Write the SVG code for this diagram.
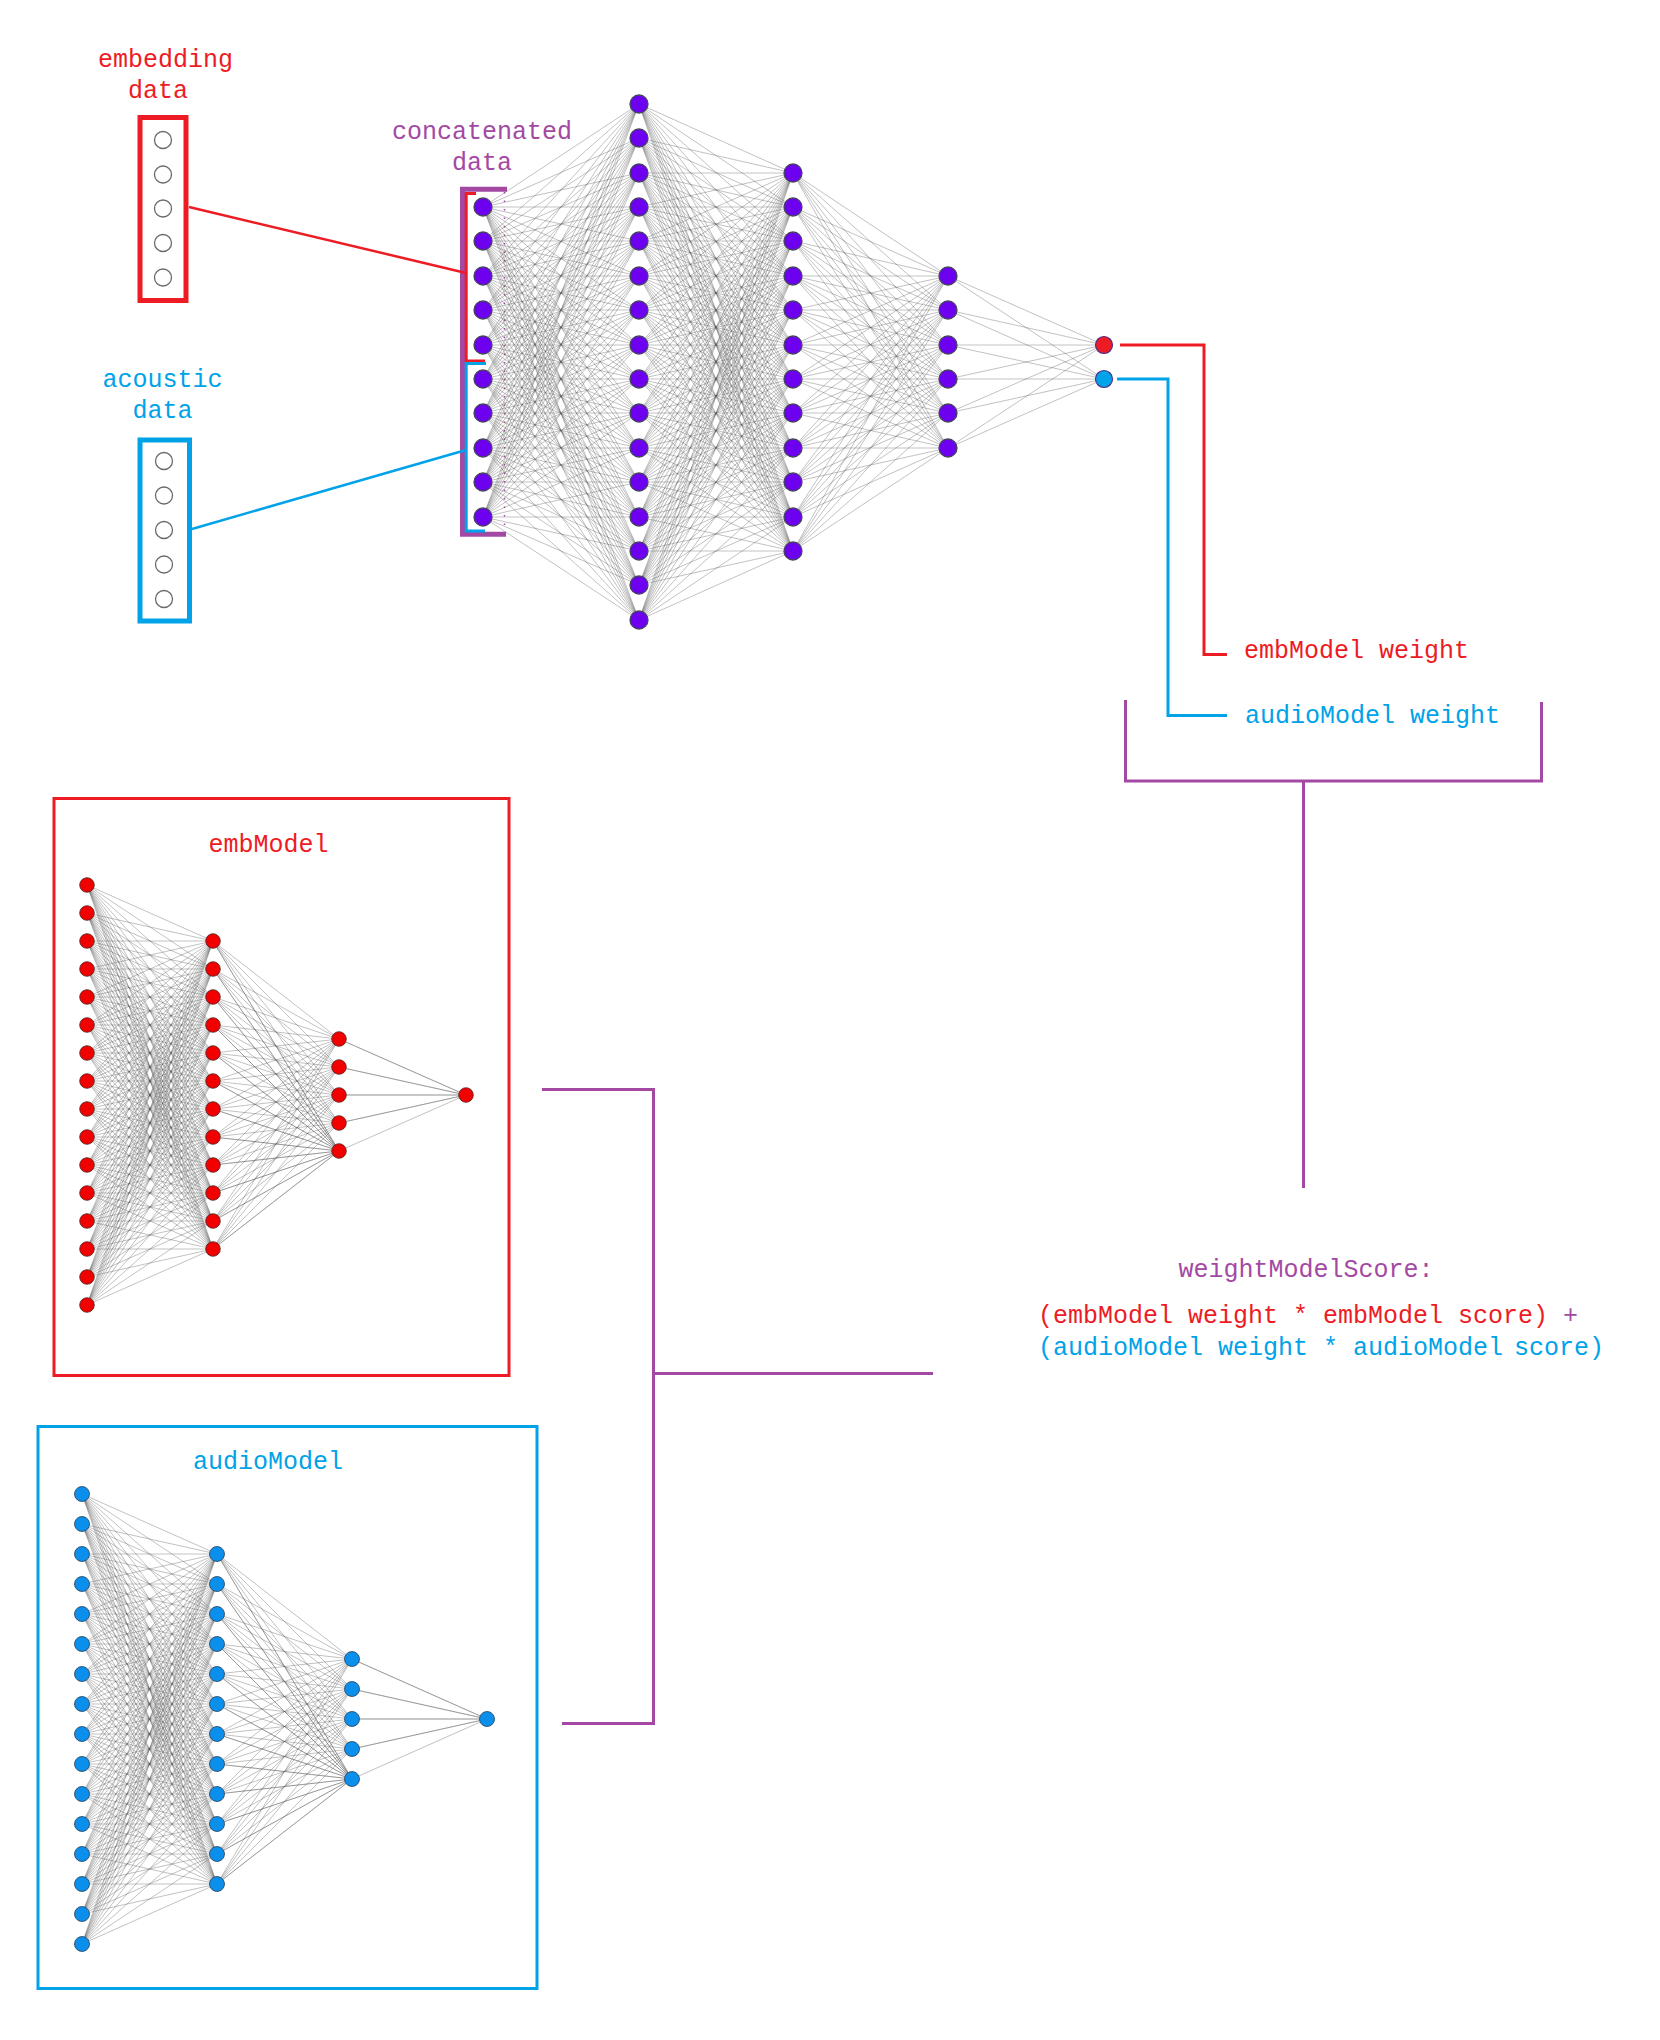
<svg xmlns="http://www.w3.org/2000/svg" width="1660" height="2040" viewBox="0 0 1660 2040">
<style>
.e{fill:none;stroke:#555;stroke-opacity:.45;stroke-width:.8;stroke-linejoin:round}
.t{font-family:"Liberation Mono","DejaVu Sans Mono",monospace;font-size:25px}
.red{fill:#ed1c24}.blue{fill:#00a2e8}.pur{fill:#a349a4}
.nv{fill:#6c00ef;stroke:#45455e;stroke-width:1.3}
.nr{fill:#f20000;stroke:#4a2424;stroke-width:.8}
.nb{fill:#0a90ec;stroke:#26405a;stroke-width:.8}
.ni{fill:#fff;stroke:#6a6a6a;stroke-width:1.3}
.lr{fill:none;stroke:#ed1c24}.lb{fill:none;stroke:#00a2e8}.lp{fill:none;stroke:#a349a4}
</style>
<rect width="1660" height="2040" fill="#fff"/>

<!-- input vectors -->
<g id="embedding-data">
<text class="t red" x="98" y="67">embedding</text>
<text class="t red" x="128" y="97.5">data</text>
<rect x="140" y="117.5" width="46" height="183" class="lr" stroke-width="5"/>
<circle class="ni" cx="163" cy="140" r="8.5"/><circle class="ni" cx="163" cy="174.5" r="8.5"/><circle class="ni" cx="163" cy="208.5" r="8.5"/><circle class="ni" cx="163" cy="243" r="8.5"/><circle class="ni" cx="163" cy="277.5" r="8.5"/>
</g>
<g id="acoustic-data">
<text class="t blue" x="102.5" y="386.5">acoustic</text>
<text class="t blue" x="132.5" y="418">data</text>
<rect x="140" y="440" width="49.5" height="181" class="lb" stroke-width="5"/>
<circle class="ni" cx="164" cy="461" r="8.5"/><circle class="ni" cx="164" cy="495.5" r="8.5"/><circle class="ni" cx="164" cy="530" r="8.5"/><circle class="ni" cx="164" cy="564.5" r="8.5"/><circle class="ni" cx="164" cy="599" r="8.5"/>
</g>

<!-- combined network -->
<g id="concat-net">
<text class="t pur" x="392" y="138.5">concatenated</text>
<text class="t pur" x="452" y="170">data</text>
<path class="lp" stroke-width="5" d="M507 189.2H462.5V534.2H506"/>
<path class="lp" stroke-width="1.5" stroke-dasharray="1.5 7" d="M504.5 192V532"/>
<path class="lr" stroke-width="3" d="M476 193.5H466.2V361H485"/>
<path class="lb" stroke-width="3" d="M486 363.5H466.2V531H485"/>
<g class="e">
<path d="M483 207 639 104 483 241 639 138 483 207 639 173 483 241 639 207 483 207 639 241 483 241 639 276 483 207 639 310 483 241 639 345 483 207 639 379 483 241 639 413 483 207 639 448 483 241 639 482 483 207 639 517 483 241 639 551 483 207 639 585 483 241 639 620 483 207"/>
<path d="M483 276 639 104 483 310 639 138 483 276 639 173 483 310 639 207 483 276 639 241 483 310 639 276 483 276 639 310 483 310 639 345 483 276 639 379 483 310 639 413 483 276 639 448 483 310 639 482 483 276 639 517 483 310 639 551 483 276 639 585 483 310 639 620 483 276"/>
<path d="M483 345 639 104 483 379 639 138 483 345 639 173 483 379 639 207 483 345 639 241 483 379 639 276 483 345 639 310 483 379 639 345 483 345 639 379 483 379 639 413 483 345 639 448 483 379 639 482 483 345 639 517 483 379 639 551 483 345 639 585 483 379 639 620 483 345"/>
<path d="M483 413 639 104 483 448 639 138 483 413 639 173 483 448 639 207 483 413 639 241 483 448 639 276 483 413 639 310 483 448 639 345 483 413 639 379 483 448 639 413 483 413 639 448 483 448 639 482 483 413 639 517 483 448 639 551 483 413 639 585 483 448 639 620 483 413"/>
<path d="M483 482 639 104 483 517 639 138 483 482 639 173 483 517 639 207 483 482 639 241 483 517 639 276 483 482 639 310 483 517 639 345 483 482 639 379 483 517 639 413 483 482 639 448 483 517 639 482 483 482 639 517 483 517 639 551 483 482 639 585 483 517 639 620 483 482"/>
<path d="M793 173 639 104 793 207 639 138 793 173 639 173 793 207 639 207 793 173 639 241 793 207 639 276 793 173 639 310 793 207 639 345 793 173 639 379 793 207 639 413 793 173 639 448 793 207 639 482 793 173 639 517 793 207 639 551 793 173 639 585 793 207 639 620 793 173"/>
<path d="M793 241 639 104 793 276 639 138 793 241 639 173 793 276 639 207 793 241 639 241 793 276 639 276 793 241 639 310 793 276 639 345 793 241 639 379 793 276 639 413 793 241 639 448 793 276 639 482 793 241 639 517 793 276 639 551 793 241 639 585 793 276 639 620 793 241"/>
<path d="M793 310 639 104 793 345 639 138 793 310 639 173 793 345 639 207 793 310 639 241 793 345 639 276 793 310 639 310 793 345 639 345 793 310 639 379 793 345 639 413 793 310 639 448 793 345 639 482 793 310 639 517 793 345 639 551 793 310 639 585 793 345 639 620 793 310"/>
<path d="M793 379 639 104 793 413 639 138 793 379 639 173 793 413 639 207 793 379 639 241 793 413 639 276 793 379 639 310 793 413 639 345 793 379 639 379 793 413 639 413 793 379 639 448 793 413 639 482 793 379 639 517 793 413 639 551 793 379 639 585 793 413 639 620 793 379"/>
<path d="M793 448 639 104 793 482 639 138 793 448 639 173 793 482 639 207 793 448 639 241 793 482 639 276 793 448 639 310 793 482 639 345 793 448 639 379 793 482 639 413 793 448 639 448 793 482 639 482 793 448 639 517 793 482 639 551 793 448 639 585 793 482 639 620 793 448"/>
<path d="M793 517 639 104 793 551 639 138 793 517 639 173 793 551 639 207 793 517 639 241 793 551 639 276 793 517 639 310 793 551 639 345 793 517 639 379 793 551 639 413 793 517 639 448 793 551 639 482 793 517 639 517 793 551 639 551 793 517 639 585 793 551 639 620 793 517"/>
<path d="M948 276 793 173 948 310 793 207 948 276 793 241 948 310 793 276 948 276 793 310 948 310 793 345 948 276 793 379 948 310 793 413 948 276 793 448 948 310 793 482 948 276 793 517 948 310 793 551 948 276"/>
<path d="M948 345 793 173 948 379 793 207 948 345 793 241 948 379 793 276 948 345 793 310 948 379 793 345 948 345 793 379 948 379 793 413 948 345 793 448 948 379 793 482 948 345 793 517 948 379 793 551 948 345"/>
<path d="M948 413 793 173 948 448 793 207 948 413 793 241 948 448 793 276 948 413 793 310 948 448 793 345 948 413 793 379 948 448 793 413 948 413 793 448 948 448 793 482 948 413 793 517 948 448 793 551 948 413"/>
<path d="M1104 345 948 276 1104 379 948 310 1104 345 948 345 1104 379 948 379 1104 345 948 413 1104 379 948 448 1104 345"/>
</g>
<g id="concat-layer-in" class="nv">
<circle cx="483" cy="207" r="9"/><circle cx="483" cy="241" r="9"/><circle cx="483" cy="276" r="9"/><circle cx="483" cy="310" r="9"/><circle cx="483" cy="345" r="9"/><circle cx="483" cy="379" r="9"/><circle cx="483" cy="413" r="9"/><circle cx="483" cy="448" r="9"/><circle cx="483" cy="482" r="9"/><circle cx="483" cy="517" r="9"/>
</g>
<g id="concat-layer-h1" class="nv">
<circle cx="639" cy="104" r="9"/><circle cx="639" cy="138" r="9"/><circle cx="639" cy="173" r="9"/><circle cx="639" cy="207" r="9"/><circle cx="639" cy="241" r="9"/><circle cx="639" cy="276" r="9"/><circle cx="639" cy="310" r="9"/><circle cx="639" cy="345" r="9"/><circle cx="639" cy="379" r="9"/><circle cx="639" cy="413" r="9"/><circle cx="639" cy="448" r="9"/><circle cx="639" cy="482" r="9"/><circle cx="639" cy="517" r="9"/><circle cx="639" cy="551" r="9"/><circle cx="639" cy="585" r="9"/><circle cx="639" cy="620" r="9"/>
</g>
<g id="concat-layer-h2" class="nv">
<circle cx="793" cy="173" r="9"/><circle cx="793" cy="207" r="9"/><circle cx="793" cy="241" r="9"/><circle cx="793" cy="276" r="9"/><circle cx="793" cy="310" r="9"/><circle cx="793" cy="345" r="9"/><circle cx="793" cy="379" r="9"/><circle cx="793" cy="413" r="9"/><circle cx="793" cy="448" r="9"/><circle cx="793" cy="482" r="9"/><circle cx="793" cy="517" r="9"/><circle cx="793" cy="551" r="9"/>
</g>
<g id="concat-layer-h3" class="nv">
<circle cx="948" cy="276" r="9"/><circle cx="948" cy="310" r="9"/><circle cx="948" cy="345" r="9"/><circle cx="948" cy="379" r="9"/><circle cx="948" cy="413" r="9"/><circle cx="948" cy="448" r="9"/>
</g>
<g id="concat-out">
<circle cx="1104" cy="345" r="8.5" fill="#ed1c24" stroke="#4b2f8a" stroke-width="1.2"/>
<circle cx="1104" cy="379" r="8.5" fill="#00a2e8" stroke="#4b2f8a" stroke-width="1.2"/>
</g>
</g>

<!-- weight labels -->
<g id="weight-labels">
<text class="t red" x="1244" y="658">embModel weight</text>
<text class="t blue" x="1245" y="723">audioModel weight</text>
</g>

<!-- embedding model -->
<g id="emb-model">
<rect x="54" y="798.5" width="455" height="577" class="lr" stroke-width="3"/>
<text class="t red" x="208.5" y="852">embModel</text>
<g class="e">
<path d="M213 941 87 885 213 969 87 913 213 941 87 941 213 969 87 969 213 941 87 997 213 969 87 1025 213 941 87 1053 213 969 87 1081 213 941 87 1109 213 969 87 1137 213 941 87 1165 213 969 87 1193 213 941 87 1221 213 969 87 1249 213 941 87 1277 213 969 87 1305 213 941"/>
<path d="M213 997 87 885 213 1025 87 913 213 997 87 941 213 1025 87 969 213 997 87 997 213 1025 87 1025 213 997 87 1053 213 1025 87 1081 213 997 87 1109 213 1025 87 1137 213 997 87 1165 213 1025 87 1193 213 997 87 1221 213 1025 87 1249 213 997 87 1277 213 1025 87 1305 213 997"/>
<path d="M213 1053 87 885 213 1081 87 913 213 1053 87 941 213 1081 87 969 213 1053 87 997 213 1081 87 1025 213 1053 87 1053 213 1081 87 1081 213 1053 87 1109 213 1081 87 1137 213 1053 87 1165 213 1081 87 1193 213 1053 87 1221 213 1081 87 1249 213 1053 87 1277 213 1081 87 1305 213 1053"/>
<path d="M213 1109 87 885 213 1137 87 913 213 1109 87 941 213 1137 87 969 213 1109 87 997 213 1137 87 1025 213 1109 87 1053 213 1137 87 1081 213 1109 87 1109 213 1137 87 1137 213 1109 87 1165 213 1137 87 1193 213 1109 87 1221 213 1137 87 1249 213 1109 87 1277 213 1137 87 1305 213 1109"/>
<path d="M213 1165 87 885 213 1193 87 913 213 1165 87 941 213 1193 87 969 213 1165 87 997 213 1193 87 1025 213 1165 87 1053 213 1193 87 1081 213 1165 87 1109 213 1193 87 1137 213 1165 87 1165 213 1193 87 1193 213 1165 87 1221 213 1193 87 1249 213 1165 87 1277 213 1193 87 1305 213 1165"/>
<path d="M213 1221 87 885 213 1249 87 913 213 1221 87 941 213 1249 87 969 213 1221 87 997 213 1249 87 1025 213 1221 87 1053 213 1249 87 1081 213 1221 87 1109 213 1249 87 1137 213 1221 87 1165 213 1249 87 1193 213 1221 87 1221 213 1249 87 1249 213 1221 87 1277 213 1249 87 1305 213 1221"/>
<path d="M339 1039 213 941 339 1067 213 969 339 1039 213 997 339 1067 213 1025 339 1039 213 1053 339 1067 213 1081 339 1039 213 1109 339 1067 213 1137 339 1039 213 1165 339 1067 213 1193 339 1039 213 1221 339 1067 213 1249 339 1039"/>
<path d="M339 1095 213 941 339 1123 213 969 339 1095 213 997 339 1123 213 1025 339 1095 213 1053 339 1123 213 1081 339 1095 213 1109 339 1123 213 1137 339 1095 213 1165 339 1123 213 1193 339 1095 213 1221 339 1123 213 1249 339 1095"/>
<path d="M339 1151 213 941 339 1151 213 969 339 1151 213 997 339 1151 213 1025 339 1151 213 1053 339 1151 213 1081 339 1151 213 1109 339 1151 213 1137 339 1151 213 1165 339 1151 213 1193 339 1151 213 1221 339 1151 213 1249 339 1151"/>
<path d="M466 1095 339 1039 466 1095 339 1067 466 1095 339 1095 466 1095 339 1123 466 1095 339 1151"/>
</g>
<g class="nr">
<circle cx="87" cy="885" r="7.3"/><circle cx="87" cy="913" r="7.3"/><circle cx="87" cy="941" r="7.3"/><circle cx="87" cy="969" r="7.3"/><circle cx="87" cy="997" r="7.3"/><circle cx="87" cy="1025" r="7.3"/><circle cx="87" cy="1053" r="7.3"/><circle cx="87" cy="1081" r="7.3"/><circle cx="87" cy="1109" r="7.3"/><circle cx="87" cy="1137" r="7.3"/><circle cx="87" cy="1165" r="7.3"/><circle cx="87" cy="1193" r="7.3"/><circle cx="87" cy="1221" r="7.3"/><circle cx="87" cy="1249" r="7.3"/><circle cx="87" cy="1277" r="7.3"/><circle cx="87" cy="1305" r="7.3"/>
<circle cx="213" cy="941" r="7.3"/><circle cx="213" cy="969" r="7.3"/><circle cx="213" cy="997" r="7.3"/><circle cx="213" cy="1025" r="7.3"/><circle cx="213" cy="1053" r="7.3"/><circle cx="213" cy="1081" r="7.3"/><circle cx="213" cy="1109" r="7.3"/><circle cx="213" cy="1137" r="7.3"/><circle cx="213" cy="1165" r="7.3"/><circle cx="213" cy="1193" r="7.3"/><circle cx="213" cy="1221" r="7.3"/><circle cx="213" cy="1249" r="7.3"/>
<circle cx="339" cy="1039" r="7.3"/><circle cx="339" cy="1067" r="7.3"/><circle cx="339" cy="1095" r="7.3"/><circle cx="339" cy="1123" r="7.3"/><circle cx="339" cy="1151" r="7.3"/>
<circle cx="466" cy="1095" r="7.3"/>
</g>
</g>

<!-- audio model -->
<g id="audio-model">
<rect x="38" y="1426.5" width="499" height="562" class="lb" stroke-width="3"/>
<text class="t blue" x="193" y="1469">audioModel</text>
<g class="e">
<path d="M217 1554 82 1494 217 1584 82 1524 217 1554 82 1554 217 1584 82 1584 217 1554 82 1614 217 1584 82 1644 217 1554 82 1674 217 1584 82 1704 217 1554 82 1734 217 1584 82 1764 217 1554 82 1794 217 1584 82 1824 217 1554 82 1854 217 1584 82 1884 217 1554 82 1914 217 1584 82 1944 217 1554"/>
<path d="M217 1614 82 1494 217 1644 82 1524 217 1614 82 1554 217 1644 82 1584 217 1614 82 1614 217 1644 82 1644 217 1614 82 1674 217 1644 82 1704 217 1614 82 1734 217 1644 82 1764 217 1614 82 1794 217 1644 82 1824 217 1614 82 1854 217 1644 82 1884 217 1614 82 1914 217 1644 82 1944 217 1614"/>
<path d="M217 1674 82 1494 217 1704 82 1524 217 1674 82 1554 217 1704 82 1584 217 1674 82 1614 217 1704 82 1644 217 1674 82 1674 217 1704 82 1704 217 1674 82 1734 217 1704 82 1764 217 1674 82 1794 217 1704 82 1824 217 1674 82 1854 217 1704 82 1884 217 1674 82 1914 217 1704 82 1944 217 1674"/>
<path d="M217 1734 82 1494 217 1764 82 1524 217 1734 82 1554 217 1764 82 1584 217 1734 82 1614 217 1764 82 1644 217 1734 82 1674 217 1764 82 1704 217 1734 82 1734 217 1764 82 1764 217 1734 82 1794 217 1764 82 1824 217 1734 82 1854 217 1764 82 1884 217 1734 82 1914 217 1764 82 1944 217 1734"/>
<path d="M217 1794 82 1494 217 1824 82 1524 217 1794 82 1554 217 1824 82 1584 217 1794 82 1614 217 1824 82 1644 217 1794 82 1674 217 1824 82 1704 217 1794 82 1734 217 1824 82 1764 217 1794 82 1794 217 1824 82 1824 217 1794 82 1854 217 1824 82 1884 217 1794 82 1914 217 1824 82 1944 217 1794"/>
<path d="M217 1854 82 1494 217 1884 82 1524 217 1854 82 1554 217 1884 82 1584 217 1854 82 1614 217 1884 82 1644 217 1854 82 1674 217 1884 82 1704 217 1854 82 1734 217 1884 82 1764 217 1854 82 1794 217 1884 82 1824 217 1854 82 1854 217 1884 82 1884 217 1854 82 1914 217 1884 82 1944 217 1854"/>
<path d="M352 1659 217 1554 352 1689 217 1584 352 1659 217 1614 352 1689 217 1644 352 1659 217 1674 352 1689 217 1704 352 1659 217 1734 352 1689 217 1764 352 1659 217 1794 352 1689 217 1824 352 1659 217 1854 352 1689 217 1884 352 1659"/>
<path d="M352 1719 217 1554 352 1749 217 1584 352 1719 217 1614 352 1749 217 1644 352 1719 217 1674 352 1749 217 1704 352 1719 217 1734 352 1749 217 1764 352 1719 217 1794 352 1749 217 1824 352 1719 217 1854 352 1749 217 1884 352 1719"/>
<path d="M352 1779 217 1554 352 1779 217 1584 352 1779 217 1614 352 1779 217 1644 352 1779 217 1674 352 1779 217 1704 352 1779 217 1734 352 1779 217 1764 352 1779 217 1794 352 1779 217 1824 352 1779 217 1854 352 1779 217 1884 352 1779"/>
<path d="M487 1719 352 1659 487 1719 352 1689 487 1719 352 1719 487 1719 352 1749 487 1719 352 1779"/>
</g>
<g class="nb">
<circle cx="82" cy="1494" r="7.5"/><circle cx="82" cy="1524" r="7.5"/><circle cx="82" cy="1554" r="7.5"/><circle cx="82" cy="1584" r="7.5"/><circle cx="82" cy="1614" r="7.5"/><circle cx="82" cy="1644" r="7.5"/><circle cx="82" cy="1674" r="7.5"/><circle cx="82" cy="1704" r="7.5"/><circle cx="82" cy="1734" r="7.5"/><circle cx="82" cy="1764" r="7.5"/><circle cx="82" cy="1794" r="7.5"/><circle cx="82" cy="1824" r="7.5"/><circle cx="82" cy="1854" r="7.5"/><circle cx="82" cy="1884" r="7.5"/><circle cx="82" cy="1914" r="7.5"/><circle cx="82" cy="1944" r="7.5"/>
<circle cx="217" cy="1554" r="7.5"/><circle cx="217" cy="1584" r="7.5"/><circle cx="217" cy="1614" r="7.5"/><circle cx="217" cy="1644" r="7.5"/><circle cx="217" cy="1674" r="7.5"/><circle cx="217" cy="1704" r="7.5"/><circle cx="217" cy="1734" r="7.5"/><circle cx="217" cy="1764" r="7.5"/><circle cx="217" cy="1794" r="7.5"/><circle cx="217" cy="1824" r="7.5"/><circle cx="217" cy="1854" r="7.5"/><circle cx="217" cy="1884" r="7.5"/>
<circle cx="352" cy="1659" r="7.5"/><circle cx="352" cy="1689" r="7.5"/><circle cx="352" cy="1719" r="7.5"/><circle cx="352" cy="1749" r="7.5"/><circle cx="352" cy="1779" r="7.5"/>
<circle cx="487" cy="1719" r="7.5"/>
</g>
</g>

<!-- combined score -->
<g id="score-formula">
<text class="t pur" x="1178.5" y="1277">weightModelScore:</text>
<text class="t" x="1038" y="1323"><tspan class="red">(embModel weight * embModel score) </tspan><tspan class="pur">+</tspan></text>
<text class="t blue" x="1038" y="1355">(audioModel weight * audioModel<tspan x="1514">score)</tspan></text>
</g>

<!-- connectors -->
<g id="connectors" stroke-linecap="butt">
<path class="lr" stroke-width="2.5" d="M189 207L466 273"/>
<path class="lb" stroke-width="2.5" d="M192 529L466 450"/>
<path class="lr" stroke-width="3" d="M1120 345H1204V654.5H1227"/>
<path class="lb" stroke-width="3" d="M1117 379H1168V715.5H1227"/>
<path class="lp" stroke-width="3" d="M1125.5 700V781H1541.5V702"/>
<path class="lp" stroke-width="3" d="M1303.5 781V1188"/>
<path class="lp" stroke-width="3" d="M542 1089.5H653.5V1723.5H562"/>
<path class="lp" stroke-width="3" d="M653.5 1373.5H933"/>
</g>
</svg>
